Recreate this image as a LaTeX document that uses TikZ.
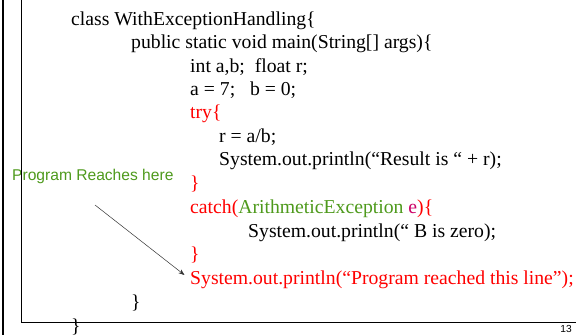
\documentclass[tikz,border=0pt]{standalone}
\usepackage{fontspec}
\setmainfont{Liberation Serif}
\newfontfamily\arialfont{Liberation Sans}
\usetikzlibrary{arrows.meta}
\definecolor{codered}{RGB}{255,0,0}
\definecolor{codegreen}{RGB}{78,154,28}
\definecolor{codemagenta}{RGB}{204,0,102}
\tikzset{
  code/.style={inner sep=0pt, anchor=base west, font=\fontsize{19.7}{23}\selectfont},
  redcode/.style={code, text=codered},
  note/.style={inner sep=0pt, anchor=base west, text=codegreen, font=\arialfont\fontsize{15.6}{18}\selectfont},
  pagenum/.style={inner sep=0pt, anchor=base east, font=\arialfont\fontsize{10.2}{12}\selectfont},
  frame/.style={line width=1.3pt, black},
  pointer/.style={line width=0.5pt, draw=black!80, -{Stealth[length=6pt,width=4.5pt]}, shorten >=7pt}
}
\begin{document}
\begin{tikzpicture}[x=1pt,y=-1pt]
\useasboundingbox (0,0) rectangle (576,335);
\fill[white] (0,0) rectangle (576,335);
% text
\node[note] (note) at (12,180) {Program Reaches here};
\node[code] (l1) at (71,25) {class WithExceptionHandling\{};
\node[code] (l2) at (131,48) {public static void main(String[] args)\{};
\node[code] (l3) at (190,72) {int a,b;\ \ float r;};
\node[code] (l4) at (190,95) {a = 7;\ \ \ b = 0;};
\node[redcode] (l5) at (190,118) {try\{};
\node[code] (l6) at (219,142) {r = a/b;};
\node[code] (l7) at (219,165) {System.out.println(“Result is “ + r);};
\node[redcode] (l8) at (190,189) {\}};
\node[redcode] (l9) at (190,213) {catch(\textcolor{codegreen}{ArithmeticException} \textcolor{codemagenta}{e})\{};
\node[code] (l10) at (248,237) {System.out.println(“ B is zero);};
\node[redcode] (l11) at (190,260) {\}};
\node[redcode] (sys) at (190,284) {System.out.println(“Program reached this line”);};
\node[code] (l13) at (131,308) {\}};
\node[code] (l14) at (71,332) {\}};
\node[pagenum] (pg) at (572,332) {13};
% frame lines
\draw[line width=2.7pt] (3,0) -- (3,335);
\draw[frame] (21.3,0) -- (21.3,322.7) -- (576,322.7);
% arrow
\coordinate (arrstart) at (95,205);
\draw[pointer] (arrstart) -- (sys.west);
\end{tikzpicture}
\end{document}
